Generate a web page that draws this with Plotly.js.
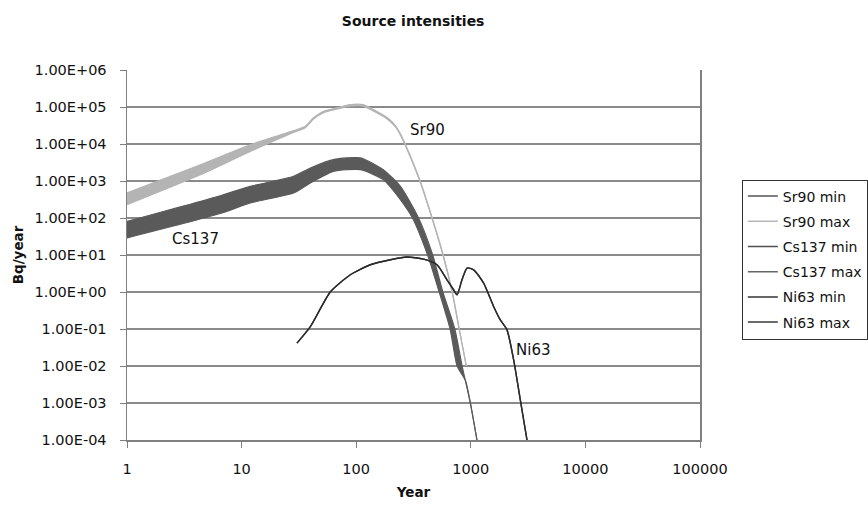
<!DOCTYPE html>
<html>
<head>
<meta charset="utf-8">
<script src="https://cdn.plot.ly/plotly-3.0.1.min.js"></script>
<style>html,body{margin:0;padding:0;background:#fff;}#chart{width:868px;height:509px;}</style>
</head>
<body>
<div id="chart"></div>
<script>
// ---- Data ----
const sr90MaxYear = [1, 4.37, 11.9, 30.4, 36, 42.4, 51.9, 67.6, 88.8, 115, 141, 186, 220, 243, 268, 362, 461, 575, 690, 794, 914];
const sr90MaxVal  = [480, 2750, 9550, 24500, 30200, 51300, 76700, 94800, 116000, 116000, 85100, 52000, 31600, 19000, 10000, 1000, 100, 10, 1, 0.1, 0.01];

const sr90MinYear = [1, 4.37, 11.9, 28.3, 36, 42.4, 51.9, 67.6, 88.8, 115, 141, 186, 220, 243, 268, 362, 461, 575, 690, 794, 914];
const sr90MinVal  = [230, 1480, 6310, 20400, 27500, 47000, 70000, 87000, 106000, 106000, 78000, 47500, 29000, 17400, 9200, 920, 92, 9.2, 0.92, 0.092, 0.01];

const cs137MaxYear = [1, 6.52, 11.9, 28.4, 39.8, 63.1, 108.6, 172, 243, 350, 465, 570, 725, 840, 991, 1132];
const cs137MaxVal  = [81, 400, 716, 1340, 2250, 3780, 4210, 2030, 716, 100, 10, 1, 0.1, 0.01, 0.001, 0.0001];

const cs137MinYear = [1, 6.52, 11.9, 28.4, 39.8, 63.1, 108.6, 172, 243, 310, 420, 530, 660, 760, 900, 991, 1132];
const cs137MinVal  = [29, 132, 255, 475, 885, 1820, 2030, 1090, 313, 100, 10, 1, 0.1, 0.01, 0.004, 0.001, 0.0001];

const ni63Year = [30.4, 39.8, 59.4, 88.9, 133, 199, 277, 387, 507, 620, 708, 759, 838, 927, 1059, 1294, 1581, 1808, 2069, 2366, 2704, 3093];
const ni63MinVal = [0.0414, 0.116, 1.0, 2.92, 5.45, 7.43, 8.81, 7.76, 5.45, 2.14, 1.15, 0.84, 2.14, 4.44, 3.98, 1.74, 0.407, 0.177, 0.0948, 0.0146, 0.00121, 0.0001];
const ni63MaxVal = [0.0414, 0.116, 1.0, 2.92, 5.45, 7.43, 8.81, 7.76, 5.45, 2.14, 1.15, 0.84, 2.14, 4.44, 3.98, 1.74, 0.407, 0.177, 0.0948, 0.0146, 0.00121, 0.0001];

const seriesNames = ['Sr90 min', 'Sr90 max', 'Cs137 min', 'Cs137 max', 'Ni63 min', 'Ni63 max'];
const legendColors = ['#555555', '#b8b8b8', '#505050', '#666666', '#333333', '#3a3a3a'];

const xTickVals = [1, 10, 100, 1000, 10000, 100000];
const xTickText = ['1', '10', '100', '1000', '10000', '100000'];
const yTickVals = [1e-4, 1e-3, 1e-2, 1e-1, 1e0, 1e1, 1e2, 1e3, 1e4, 1e5, 1e6];
const yTickText = ['1.00E-04', '1.00E-03', '1.00E-02', '1.00E-01', '1.00E+00', '1.00E+01', '1.00E+02', '1.00E+03', '1.00E+04', '1.00E+05', '1.00E+06'];

// ---- Styles ----
const SR_COL = '#b4b4b4';
const CS_COL = '#5a5a5a';
const NI_COL = '#2c2c2c';
const SM = 0.6;

const traces = [
  {x: sr90MinYear, y: sr90MinVal, mode: 'lines', line: {color: SR_COL, width: 1.2, shape: 'spline', smoothing: SM}, showlegend: false, hoverinfo: 'skip'},
  {x: sr90MaxYear, y: sr90MaxVal, mode: 'lines', line: {color: SR_COL, width: 1.2, shape: 'spline', smoothing: SM}, fill: 'tonexty', fillcolor: SR_COL, showlegend: false, hoverinfo: 'skip'},
  {x: cs137MinYear, y: cs137MinVal, mode: 'lines', line: {color: CS_COL, width: 1.2, shape: 'spline', smoothing: SM}, showlegend: false, hoverinfo: 'skip'},
  {x: cs137MaxYear, y: cs137MaxVal, mode: 'lines', line: {color: CS_COL, width: 1.2, shape: 'spline', smoothing: SM}, fill: 'tonexty', fillcolor: CS_COL, showlegend: false, hoverinfo: 'skip'},
  {x: ni63Year, y: ni63MinVal, mode: 'lines', line: {color: NI_COL, width: 1.4, shape: 'spline', smoothing: SM}, showlegend: false, hoverinfo: 'skip'},
  {x: ni63Year, y: ni63MaxVal, mode: 'lines', line: {color: NI_COL, width: 1.4, shape: 'spline', smoothing: SM}, showlegend: false, hoverinfo: 'skip'}
];
// legend entries
seriesNames.forEach((n, i) => {
  traces.push({x: [null], y: [null], mode: 'lines', name: n, legendgroup: 'g' + i, legendrank: i + 1,
    line: {color: legendColors[i], width: 1.5}, showlegend: true});
});

const FONT = '"DejaVu Sans", Verdana, sans-serif';
const FS = 14.5;

const layout = {
  width: 868, height: 509,
  margin: {l: 127, r: 168, t: 70, b: 69, autoexpand: false},
  paper_bgcolor: '#ffffff', plot_bgcolor: '#ffffff',
  font: {family: FONT, color: '#111', size: FS},
  title: {text: '<b>Source intensities</b>', font: {family: FONT, size: 14, color: '#111'},
    x: 0.476, xref: 'container', xanchor: 'center', y: 1 - 21 / 509, yref: 'container', yanchor: 'middle'},
  xaxis: {
    type: 'log', range: [0, 5], tickvals: xTickVals, ticktext: xTickText,
    ticks: 'outside', ticklen: 6, tickcolor: '#808080', tickwidth: 1,
    showline: true, linecolor: '#808080', linewidth: 1.5,
    showgrid: false, zeroline: false, ticklabelstandoff: 9,
    tickfont: {family: FONT, size: FS, color: '#111'},
    title: {text: '<b>Year</b>', font: {family: FONT, size: 13.5, color: '#111'}, standoff: 11}
  },
  yaxis: {
    type: 'log', range: [-4, 6], tickvals: yTickVals, ticktext: yTickText,
    ticks: 'outside', ticklen: 6, tickcolor: '#808080', tickwidth: 1,
    showline: true, linecolor: '#808080', linewidth: 1.5, mirror: true,
    showgrid: true, gridcolor: '#8a8a8a', gridwidth: 1.3, zeroline: false, ticklabelstandoff: 10,
    tickfont: {family: FONT, size: FS, color: '#111'},
    title: {text: '<b>Bq/year</b>', font: {family: FONT, size: 13.5, color: '#111'}, standoff: 8}
  },
  legend: {
    x: 1.073, y: 0.704, xanchor: 'left', yanchor: 'top', xref: 'paper', yref: 'paper',
    bgcolor: '#ffffff', bordercolor: '#333333', borderwidth: 1,
    font: {family: FONT, size: 14, color: '#111'}, tracegroupgap: 4, traceorder: 'grouped'
  },
  annotations: [
    {text: 'Sr90', xref: 'x', yref: 'y', x: 2.62, y: 4.39, showarrow: false, font: {family: FONT, size: 15, color: '#111'}},
    {text: 'Cs137', xref: 'x', yref: 'y', x: 0.6, y: 1.44, showarrow: false, font: {family: FONT, size: 15, color: '#111'}},
    {text: 'Ni63', xref: 'x', yref: 'y', x: 3.54, y: -1.57, showarrow: false, font: {family: FONT, size: 15, color: '#111'}}
  ],
  showlegend: true
};

Plotly.newPlot('chart', traces, layout, {staticPlot: true, displayModeBar: false});
</script>
</body>
</html>
